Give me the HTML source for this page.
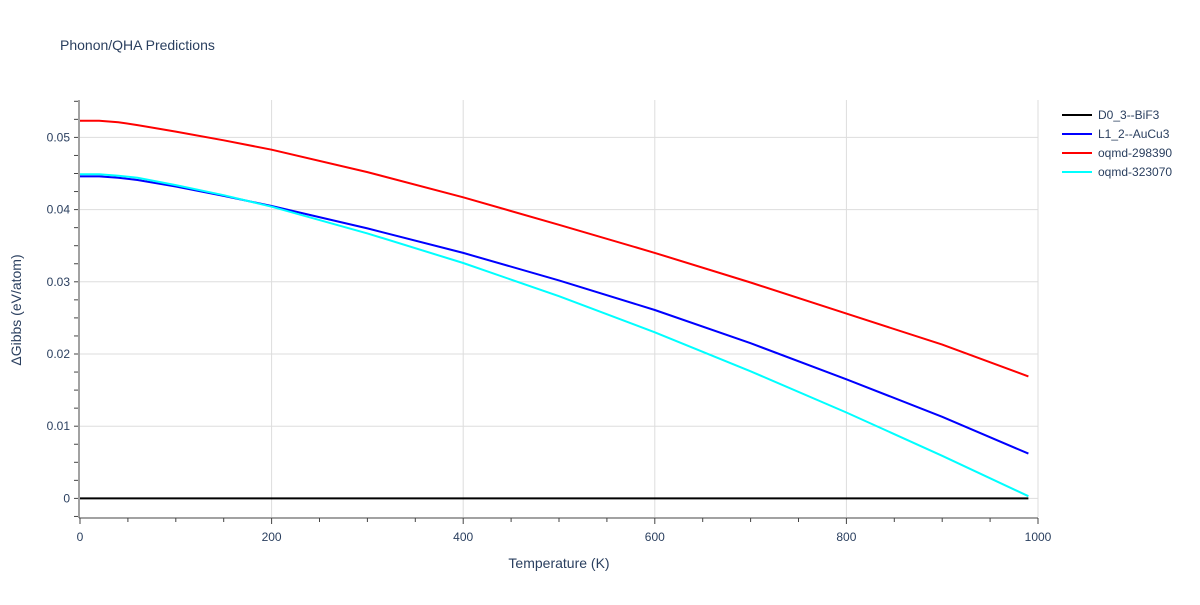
<!DOCTYPE html>
<html><head><meta charset="utf-8"><style>
body{margin:0;background:#fff;font-family:"Liberation Sans",sans-serif;}
svg text{font-family:"Liberation Sans",sans-serif;fill:#2a3f5f;}
</style></head><body>
<svg width="1200" height="600">
<rect width="1200" height="600" fill="#fff"/>
<text x="60" y="50" font-size="14">Phonon/QHA Predictions</text>
<g id="grid"></g><g id="axes"></g><g id="series"></g><g id="legend"></g>
<text x="559" y="568" font-size="14" text-anchor="middle">Temperature (K)</text>
<text transform="translate(21,310) rotate(-90)" font-size="14" text-anchor="middle">ΔGibbs (eV/atom)</text>
</svg>
<script>
const names=["D0_3--BiF3","L1_2--AuCu3","oqmd-298390","oqmd-323070"];
const colors=["#000000","#0000ff","#ff0000","#00ffff"];
const temps=[0,20,40,60,100,150,200,300,400,500,600,700,800,900,990];
const s0=[0,0,0,0,0,0,0,0,0,0,0,0,0,0,0];
const s1=[0.0446,0.0446,0.0444,0.0441,0.0432,0.0419,0.0405,0.0374,0.0340,0.0302,0.0261,0.0215,0.0165,0.0113,0.0062];
const s2=[0.0523,0.0523,0.0521,0.0517,0.0508,0.0496,0.0483,0.0452,0.0417,0.0379,0.0340,0.0299,0.0256,0.0213,0.0169];
const s3=[0.0449,0.0449,0.0447,0.0444,0.0434,0.0420,0.0404,0.0367,0.0326,0.0280,0.0230,0.0176,0.0119,0.0059,0.0003];
const series=[s0,s1,s2,s3];
const xTicks=[0,200,400,600,800,1000];
const yTicks=[0,0.01,0.02,0.03,0.04,0.05];
const yLabels=["0","0.01","0.02","0.03","0.04","0.05"];
const NS="http://www.w3.org/2000/svg";
const X=v=>80+v*0.958, Y=v=>498.4-v*7220;
function mk(p,t,a){const e=document.createElementNS(NS,t);for(const k in a)e.setAttribute(k,a[k]);p.appendChild(e);return e;}
const g=document.getElementById('grid'),ax=document.getElementById('axes'),sg=document.getElementById('series'),lg=document.getElementById('legend');
xTicks.forEach(t=>{if(t>0){const l=mk(g,'line',{x1:X(t),x2:X(t),y1:100,y2:517,stroke:'#ddd'});

}
const tx=mk(ax,'text',{x:X(t),y:541,'font-size':12,'text-anchor':'middle'});tx.textContent=t;

});
for(let t=0;t<=1000;t+=50){mk(ax,'line',{x1:X(t),x2:X(t),y1:518,y2:t%200==0?524:522,stroke:'#444'});}
yTicks.forEach((t,i)=>{const l=mk(g,'line',{x1:80,x2:1038,y1:Y(t),y2:Y(t),stroke:'#ddd'});


const tx=mk(ax,'text',{x:70,y:Y(t)+4,'font-size':12,'text-anchor':'end'});tx.textContent=yLabels[i];

});
for(let t=-0.0025;t<=0.0551;t+=0.0025){mk(ax,'line',{x1:74,x2:78,y1:Y(t),y2:Y(t),stroke:'#444'});}
mk(ax,'line',{x1:79,x2:79,y1:100,y2:518,stroke:'#444'});
mk(ax,'line',{x1:79,x2:1038,y1:518,y2:518,stroke:'#444'});
series.forEach((s,i)=>{const d=s.map((v,j)=>(j?'L':'M')+X(temps[j]).toFixed(1)+','+Y(v).toFixed(1)).join(' ');
const p=mk(sg,'path',{d:d,fill:'none',stroke:colors[i],'stroke-width':2});


const y=115+i*19;
const le=mk(lg,'g',{});


mk(le,'line',{x1:1062,x2:1092,y1:y,y2:y,stroke:colors[i],'stroke-width':2});
const tx=mk(le,'text',{x:1098,y:y+4,'font-size':12});tx.textContent=names[i];});
</script>
</body></html>
